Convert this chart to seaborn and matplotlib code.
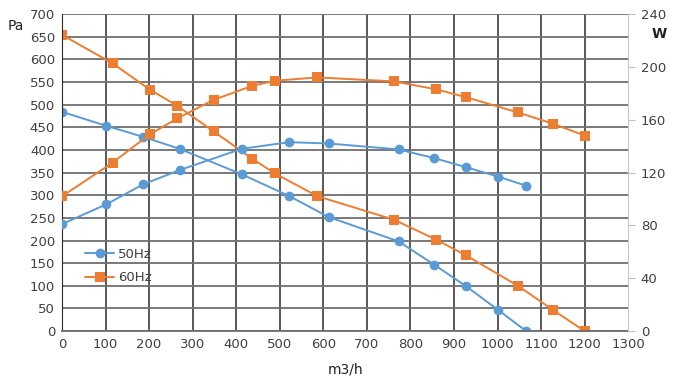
import matplotlib
matplotlib.use("Agg")
import matplotlib.pyplot as plt
import seaborn as sns
import pandas as pd

# flow (m3/h) and readings for the two supply frequencies
flow_50 = [0, 102, 186, 271, 413, 522, 612, 773, 854, 928, 1001, 1066]
pa_50 = [484, 453, 429, 402, 346, 298, 252, 198, 147, 99, 47, 0]
w_50 = [81, 96, 111, 122, 138, 143, 142, 137.5, 131, 124, 117, 110]

flow_60 = [0, 116, 202, 265, 348, 436, 489, 586, 762, 859, 928, 1047, 1127, 1200]
pa_60 = [654, 591, 533, 497, 441, 381, 348, 298, 246, 202, 167, 100, 47, 0]
w_60 = [102, 127.5, 149, 161, 175, 185.5, 189.5, 192, 189, 183, 177, 165.5, 157, 148]

blue = '#5B9BD5'
orange = '#ED7D31'

df50 = pd.DataFrame({'flow': flow_50, 'pa': pa_50, 'w': w_50})
df60 = pd.DataFrame({'flow': flow_60, 'pa': pa_60, 'w': w_60})

sns.set_style('white')
plt.rcParams['font.family'] = ['DejaVu Sans']

fig = plt.figure(figsize=(6.74, 3.78), dpi=100)
ax = fig.add_axes([0.092, 0.124, 0.84, 0.839])
ax2 = ax.twinx()

sns.lineplot(data=df50, x='flow', y='pa', ax=ax, color=blue, marker='o', markersize=7,
             markeredgewidth=0, linewidth=1.4, sort=False, label='50Hz')
sns.lineplot(data=df60, x='flow', y='pa', ax=ax, color=orange, marker='s', markersize=7,
             markeredgewidth=0, linewidth=1.4, sort=False, label='60Hz')
sns.lineplot(data=df50, x='flow', y='w', ax=ax2, color=blue, marker='o', markersize=7,
             markeredgewidth=0, linewidth=1.4, sort=False, legend=False)
sns.lineplot(data=df60, x='flow', y='w', ax=ax2, color=orange, marker='s', markersize=7,
             markeredgewidth=0, linewidth=1.4, sort=False, legend=False)

ax.set_xlim(0, 1300)
ax.set_ylim(0, 700)
ax2.set_ylim(0, 240)
ax.set_xticks(range(0, 1301, 100))
ax.set_yticks(range(0, 701, 50))
ax2.set_yticks(range(0, 241, 40))

# horizontal grid a bit lighter than the vertical one, as in the original
ax.yaxis.grid(True, color='#6e6e6e', linewidth=1.3)
ax.xaxis.grid(True, color='#2a2a2a', linewidth=1.1)
ax.xaxis.get_gridlines()[-1].set_visible(False)
ax.set_axisbelow(True)
for s in ['top', 'right']:
    ax.spines[s].set_visible(False)
for s in ['top', 'left', 'bottom']:
    ax2.spines[s].set_visible(False)
ax2.spines['right'].set_color('#c8c8c8')
ax.spines['left'].set_color('#2a2a2a')
ax.spines['bottom'].set_color('#6e6e6e')
ax.spines['bottom'].set_linewidth(1.3)

tick_col = '#404040'
ax.tick_params(axis='both', length=0, labelsize=9.5, labelcolor=tick_col, pad=5)
ax2.tick_params(axis='y', length=5, color='#c0c0c0', labelsize=9.5, labelcolor=tick_col, pad=4)

ax.set_xlabel('m3/h', fontsize=10, color='#222222', labelpad=8)
ax.set_ylabel('')
ax2.set_ylabel('')
fig.text(0.012, 0.92, 'Pa', fontsize=10, color='#222222')
fig.text(0.978, 0.9, 'W', fontsize=10, color='#222222', ha='center', fontweight='bold')

ax.legend(loc='upper left', bbox_to_anchor=(0.02, 0.3), frameon=False, fontsize=9.5,
          handlelength=2.2, labelspacing=0.8, labelcolor=tick_col, handletextpad=0.3)

fig.savefig('out.png', dpi=100)
